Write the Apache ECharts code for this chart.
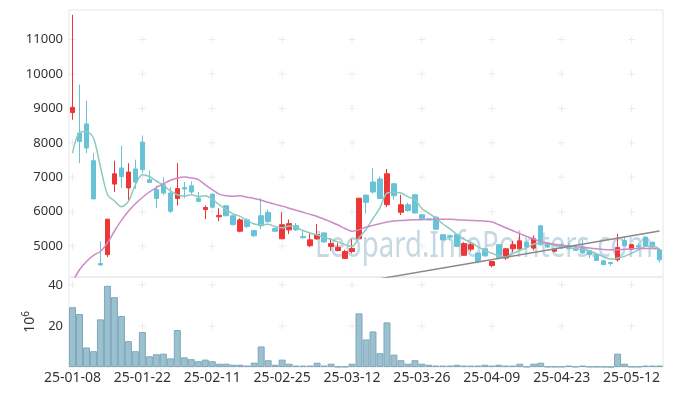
<!DOCTYPE html>
<html><head><meta charset="utf-8">
<script src="https://cdn.jsdelivr.net/npm/echarts@6/dist/echarts.min.js"></script>
<style>html,body{margin:0;padding:0;background:#fff}#c{width:673px;height:396px}</style>
</head><body><div id="c"></div>
<script>
const dates = ['25-01-08','25-01-09','25-01-10','25-01-13','25-01-14','25-01-15','25-01-16','25-01-17','25-01-20','25-01-21',
'25-01-22','25-01-23','25-01-24','25-01-31','25-02-03','25-02-04','25-02-05','25-02-06','25-02-07','25-02-10',
'25-02-11','25-02-12','25-02-13','25-02-14','25-02-17','25-02-18','25-02-19','25-02-20','25-02-21','25-02-24',
'25-02-25','25-02-26','25-02-27','25-02-28','25-03-04','25-03-05','25-03-06','25-03-07','25-03-10','25-03-11',
'25-03-12','25-03-13','25-03-14','25-03-17','25-03-18','25-03-19','25-03-20','25-03-21','25-03-24','25-03-25',
'25-03-26','25-03-27','25-03-28','25-03-31','25-04-01','25-04-02','25-04-03','25-04-04','25-04-07','25-04-08',
'25-04-09','25-04-10','25-04-11','25-04-14','25-04-15','25-04-16','25-04-17','25-04-18','25-04-21','25-04-22',
'25-04-23','25-04-24','25-04-25','25-04-28','25-04-29','25-04-30','25-05-02','25-05-07','25-05-08','25-05-09',
'25-05-12','25-05-13','25-05-14','25-05-15','25-05-16'];
const openP = [8880,8280,8550,7480,4490,4750,6800,7270,6690,7240,
8020,6930,6640,6780,6540,6380,6700,6750,6390,6060,
6510,5850,6170,5880,5430,5760,5450,5880,5980,5510,
5210,5470,5590,5280,5010,5210,5380,4990,4870,4640,
4840,5210,6480,6860,6950,6200,6810,5980,6200,6490,
5910,5790,5840,5330,5300,5330,4730,4910,4800,4920,
4430,5040,4650,4920,4920,5110,4940,5590,5090,4850,
5040,5010,4940,4970,4870,4750,4570,4520,4600,5160,
4910,5010,5260,5110,4890];
const closeP = [9030,8040,7850,6370,4450,5780,7100,7020,7150,6860,
7220,6850,6380,6540,6010,6670,6660,6570,6300,6120,
6130,5890,5880,5620,5760,5570,5300,5590,5710,5430,
5620,5650,5470,5240,5180,5330,5120,5070,4960,4840,
4930,6390,6270,6570,6380,7100,6460,6200,6030,5960,
5790,5760,5490,5180,5260,4990,5070,5040,4550,4720,
4550,4670,4920,5040,5150,4970,5210,5040,4970,4910,
4940,4920,4870,4800,4750,4580,4460,4490,4960,5010,
5040,4970,4990,4970,4600];
const lowP = [8670,7410,7700,6360,4430,4680,6570,6690,6330,6660,
7120,6840,6100,6490,5960,6180,6390,6520,6270,5780,
6100,5720,5870,5600,5400,5520,5260,5490,5670,5420,
5200,5350,5440,5220,4970,5180,5090,4860,4840,4620,
4780,5200,5940,6520,6370,6130,6350,5900,6000,5950,
5770,5750,5470,5170,5160,4980,4720,4840,4500,4700,
4380,4650,4600,4820,4900,4950,4870,5020,4950,4830,
4930,4910,4860,4780,4650,4570,4450,4430,4550,4990,
4880,4910,4980,4950,4520];
const highP = [11720,9690,9220,7700,5140,5790,7480,7920,7410,7510,
8210,7200,6760,7000,6710,7410,6860,6880,6570,6180,
6520,6100,6180,5890,5810,5810,5460,6390,6060,5530,
5980,5770,5670,5470,5380,5640,5400,5230,5090,4890,
5200,6400,6490,7270,7020,7240,6830,6490,6260,6510,
5920,5800,5880,5340,5330,5360,5110,5090,4810,4930,
4570,5050,4940,5150,5380,5130,5310,5600,5110,4930,
5100,5090,4960,5180,4890,4760,4580,4530,5350,5260,
5050,5090,5270,5130,4900];
const ma5 = [7700,8300,8330,8140,7300,6500,6310,6140,6300,6780,
7070,7020,6890,6770,6600,6490,6450,6490,6440,6460,
6360,6200,6060,5930,5860,5740,5640,5620,5630,5560,
5530,5580,5550,5450,5380,5320,5250,5190,5120,5040,
4990,5240,5480,5800,6110,6540,6560,6540,6430,6350,
6090,5950,5810,5640,5500,5340,5200,5110,4980,4870,
4790,4710,4680,4780,4870,4950,5060,5080,5070,5020,
5010,4960,4920,4890,4860,4780,4690,4620,4650,4700,
4790,4890,4990,5000,4910];
const ma20 = [3960,4310,4550,4730,4840,5090,5430,5745,6010,6230,
6410,6570,6700,6810,6910,6980,7005,6980,6930,6780,
6640,6510,6460,6450,6460,6420,6380,6330,6270,6210,
6160,6100,6040,5980,5920,5860,5780,5700,5610,5510,
5430,5470,5550,5600,5650,5700,5730,5745,5755,5765,
5765,5770,5775,5780,5775,5765,5755,5745,5735,5725,
5705,5620,5530,5445,5360,5280,5200,5135,5090,5050,
5020,5000,4980,4960,4940,4920,4900,4890,4890,4910,
4920,4930,4930,4930,4910];
const volume = [29.1,25.8,9.5,7.7,23.2,39.5,34.0,24.8,12.6,7.7,
17.0,5.2,6.2,6.5,4.2,18.0,4.7,3.8,2.8,3.6,
2.8,1.6,1.6,1.1,1.1,0.7,2.1,10.0,3.3,1.1,
3.6,1.6,0.7,0.7,0.7,2.1,0.7,1.6,0.2,0.2,
1.6,26.1,13.4,17.3,6.7,21.7,6.0,3.3,1.6,3.3,
1.6,1.1,0.7,0.7,0.7,1.1,0.7,0.7,0.7,1.1,
0.7,1.1,0.7,0.7,1.6,0.2,1.6,2.1,0.2,0.2,
0.2,0.7,0.2,0.7,0.2,0.2,0.2,0,6.5,1.6,
0.2,0.2,0.7,0.7,0.7];
const trendStart = {idx: 44, value: 4050};
const trendEnd = {idx: 84, value: 5434};
const priceTicks = [5000,6000,7000,8000,9000,10000,11000];
const volTicks = [20,40];
const labelIdx = [0,10,20,30,40,50,60,70,80];
const watermark = 'Leopard.InfoPointers.com';

const FONT = 'Noto Sans';
const WM_FONT_SIZE = 36, WM_WIDTH = 338;
const mctx = document.createElement('canvas').getContext('2d');
mctx.font = WM_FONT_SIZE + 'px "' + FONT + '"';
const wmScale = WM_WIDTH / mctx.measureText(watermark).width;

const candleData = dates.map((d,i)=>[openP[i],closeP[i],lowP[i],highP[i]]);
const trendData = dates.map((d,i)=> i===trendStart.idx ? trendStart.value : (i===trendEnd.idx ? trendEnd.value : null));
const plus = 'path://M3,0H4V3H7V4H4V7H3V4H0V3H3Z';
const crossMain = [], crossVol = [];
labelIdx.forEach(i=>{ priceTicks.forEach(v=>crossMain.push([dates[i],v])); volTicks.forEach(v=>crossVol.push([dates[i],v])); });

const chart = echarts.init(document.getElementById('c'));
chart.setOption({
  animation:false,
  backgroundColor:'#fff',
  textStyle:{fontFamily:FONT},
  grid:[
    {left:69,right:10,top:10,height:267,show:true,borderColor:'#e6e6e6',borderWidth:1,backgroundColor:'transparent',outerBoundsMode:'none'},
    {left:69,right:10,top:277,bottom:29,show:true,borderColor:'#e6e6e6',borderWidth:1,backgroundColor:'transparent',outerBoundsMode:'none'}
  ],
  xAxis:[
    {type:'category',gridIndex:0,data:dates,boundaryGap:true,axisLine:{show:false},axisTick:{show:false},axisLabel:{show:false},splitLine:{show:false}},
    {type:'category',gridIndex:1,data:dates,boundaryGap:true,axisLine:{show:false},axisTick:{show:false},splitLine:{show:false},
     axisLabel:{interval:9,fontSize:14,color:'#333',margin:4,fontFamily:FONT}}
  ],
  yAxis:[
    {type:'value',gridIndex:0,min:4100,max:11860,splitNumber:8,scale:true,axisLine:{show:false},axisTick:{show:false},splitLine:{show:false},
     axisLabel:{fontSize:13,color:'#333',margin:6,showMinLabel:false,showMaxLabel:false,fontFamily:FONT,formatter:v=>String(v)}},
    {type:'value',gridIndex:1,min:0,max:43.8,interval:20,axisLine:{show:false},axisTick:{show:false},splitLine:{show:false},
     axisLabel:{fontSize:13,color:'#333',margin:6,showMinLabel:false,showMaxLabel:false,fontFamily:FONT,formatter:v=>String(v)},
     name:'10{s|6}',nameLocation:'middle',nameRotate:90,nameGap:28,
     nameTextStyle:{fontSize:14,color:'#333',fontFamily:FONT,rich:{s:{fontSize:10,color:'#333',padding:[0,0,8,0],fontFamily:FONT}}}}
  ],
  graphic:[{type:'text',x:315,y:229,scaleX:wmScale,scaleY:1,z:1,silent:true,
    style:{text:watermark,fontSize:WM_FONT_SIZE,fontFamily:FONT,fill:'rgba(140,178,200,0.5)',verticalAlign:'top'}}],
  series:[
    {type:'scatter',xAxisIndex:0,yAxisIndex:0,data:crossMain,symbol:plus,symbolSize:7,itemStyle:{color:'#e6e6e6'},silent:true,z:1},
    {type:'scatter',xAxisIndex:1,yAxisIndex:1,data:crossVol,symbol:plus,symbolSize:7,itemStyle:{color:'#e6e6e6'},silent:true,z:1},
    {type:'candlestick',xAxisIndex:0,yAxisIndex:0,data:candleData,barWidth:5,
     itemStyle:{color:'#ee3636',color0:'#68c3d8',borderColor:'#ee3636',borderColor0:'#68c3d8',borderWidth:1}},
    {type:'line',xAxisIndex:0,yAxisIndex:0,data:ma5,showSymbol:false,smooth:0.3,lineStyle:{color:'#8ccabf',width:1.5},z:3},
    {type:'line',xAxisIndex:0,yAxisIndex:0,data:ma20,showSymbol:false,smooth:0.3,lineStyle:{color:'#cc8ac6',width:1.5},z:3},
    {type:'line',xAxisIndex:0,yAxisIndex:0,data:trendData,connectNulls:true,showSymbol:false,lineStyle:{color:'#8a8a8a',width:1.5},z:3},
    {type:'bar',xAxisIndex:1,yAxisIndex:1,data:volume,barWidth:'100%',itemStyle:{color:'#9bc0cf',borderColor:'#7fa8bb',borderWidth:1}}
  ]
});
</script></body></html>
